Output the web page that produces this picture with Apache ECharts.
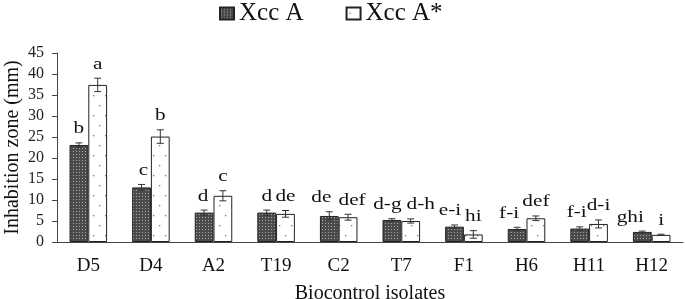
<!DOCTYPE html>
<html>
<head>
<meta charset="utf-8">
<script src="https://cdn.jsdelivr.net/npm/echarts@6/dist/echarts.min.js"></script>
<style>html,body{margin:0;padding:0;background:#fff}#c{width:685px;height:299px}</style>
</head>
<body>
<div id="c"></div>
<script>
// ---- data ----
var categories = ['D5','D4','A2','T19','C2','T7','F1','H6','H11','H12'];
var seriesNames = ['Xcc A','Xcc A*'];
var valuesA = [23.1, 13.0, 7.0, 7.0, 6.2, 5.25, 3.65, 3.1, 3.2, 2.4];
var errorsA = [0.5, 0.7, 0.6, 0.6, 1.0, 0.3, 0.4, 0.4, 0.4, 0.2];
var valuesB = [37.4, 25.1, 11.0, 6.7, 5.9, 5.0, 1.8, 5.65, 4.3, 1.7];
var errorsB = [1.6, 1.6, 1.2, 0.8, 0.7, 0.5, 0.9, 0.55, 0.95, 0.15];
var lettersA = ['b','c','d','d','de','d-g','e-i','f-i','f-i','ghi'];
var lettersB = ['a','b','c','de','def','d-h','hi','def','d-i','i'];
var yTicks = {min: 0, max: 45, interval: 5};

// ---- layout (label horizontal shifts, px) ----
var shiftA = [0, 2, -1, 0, -8, -4.5, -4.5, -8, -3, -12];
var shiftB = [0, 0, 0, 0, 4, 10, 0, 0, 0, 0];

function makePattern(w, h, bg, dots, dotColor, r) {
  var c = document.createElement('canvas');
  c.width = w; c.height = h;
  var ctx = c.getContext('2d');
  ctx.fillStyle = bg; ctx.fillRect(0, 0, w, h);
  ctx.fillStyle = dotColor;
  dots.forEach(function (d) { ctx.fillRect(d[0], d[1], r, r); });
  return c;
}
var darkPat = makePattern(3, 3, '#4b4b4b', [[1,1]], '#a8a8a8', 1);
var lightPat = makePattern(12, 20, '#ffffff', [[3,5],[9,15]], '#7a7a7a', 1.3);

var chart = echarts.init(document.getElementById('c'));
var FONT = 'Liberation Serif';

function errSeries(idx, vals, errs, letters, shifts) {
  return {
    type: 'custom',
    z: 5,
    silent: true,
    data: vals.map(function (v, i) { return [i, v, errs[i]]; }),
    renderItem: function (params, api) {
      var i = api.value(0), v = api.value(1), e = api.value(2);
      var base = api.coord([i, 0]);
      var bw = api.size([1, 0])[0] * 0.3;
      var x = base[0] + (idx === 0 ? -bw / 2 : bw / 2);
      var top = api.coord([i, v + e])[1];
      var bot = api.coord([i, v - e])[1];
      var cap = 3.5;
      var st = {stroke: '#333', lineWidth: 1};
      var lx = x + shifts[i], ly = top - 14;
      return {
        type: 'group',
        children: [
          {type: 'line', shape: {x1: x, y1: top, x2: x, y2: bot}, style: st},
          {type: 'line', shape: {x1: x - cap, y1: top, x2: x + cap, y2: top}, style: st},
          {type: 'line', shape: {x1: x - cap, y1: bot, x2: x + cap, y2: bot}, style: st},
          {type: 'text', x: lx, y: ly, scaleX: 1.25, scaleY: 1, style: {
            text: letters[i], x: 0, y: 0,
            align: 'center', verticalAlign: 'middle',
            fontFamily: FONT, fontSize: 17, fill: '#111'
          }}
        ]
      };
    }
  };
}

chart.setOption({
  animation: false,
  backgroundColor: '#fff',
  legend: {
    data: seriesNames,
    left: 214, top: -4,
    icon: 'rect',
    itemWidth: 14, itemHeight: 12, itemGap: 42,
    textStyle: {fontFamily: FONT, fontSize: 25, color: '#111'}
  },
  grid: {left: 57, right: 2, top: 53, bottom: 57, outerBoundsMode: 'none', containLabel: false},
  xAxis: {
    type: 'category',
    data: categories,
    name: 'Biocontrol isolates',
    nameLocation: 'middle',
    nameGap: 42,
    nameMoveOverlap: false,
    nameTextStyle: {fontFamily: FONT, fontSize: 20, color: '#111'},
    axisLine: {lineStyle: {color: '#444', width: 1}},
    axisTick: {show: false},
    axisLabel: {fontFamily: FONT, fontSize: 19, color: '#111', margin: 15}
  },
  yAxis: {
    type: 'value',
    min: yTicks.min, max: yTicks.max, interval: yTicks.interval,
    name: 'Inhabition zone (mm)',
    nameLocation: 'middle',
    nameGap: 34,
    nameMoveOverlap: false,
    nameTextStyle: {fontFamily: FONT, fontSize: 20, color: '#111'},
    axisLine: {show: true, lineStyle: {color: '#444', width: 1}},
    axisTick: {show: true, length: 5, lineStyle: {color: '#444'}},
    splitLine: {show: false},
    axisLabel: {fontFamily: FONT, fontSize: 16, color: '#222', margin: 13}
  },
  series: [
    {
      name: seriesNames[0], type: 'bar', data: valuesA,
      barGap: '0%', barCategoryGap: '40%',
      itemStyle: {color: {image: darkPat, repeat: 'repeat'}, borderColor: '#222', borderWidth: 1}
    },
    {
      name: seriesNames[1], type: 'bar', data: valuesB,
      barGap: '0%', barCategoryGap: '40%',
      itemStyle: {color: {image: lightPat, repeat: 'repeat'}, borderColor: '#222', borderWidth: 1}
    },
    errSeries(0, valuesA, errorsA, lettersA, shiftA),
    errSeries(1, valuesB, errorsB, lettersB, shiftB)
  ]
});
</script>
</body>
</html>
